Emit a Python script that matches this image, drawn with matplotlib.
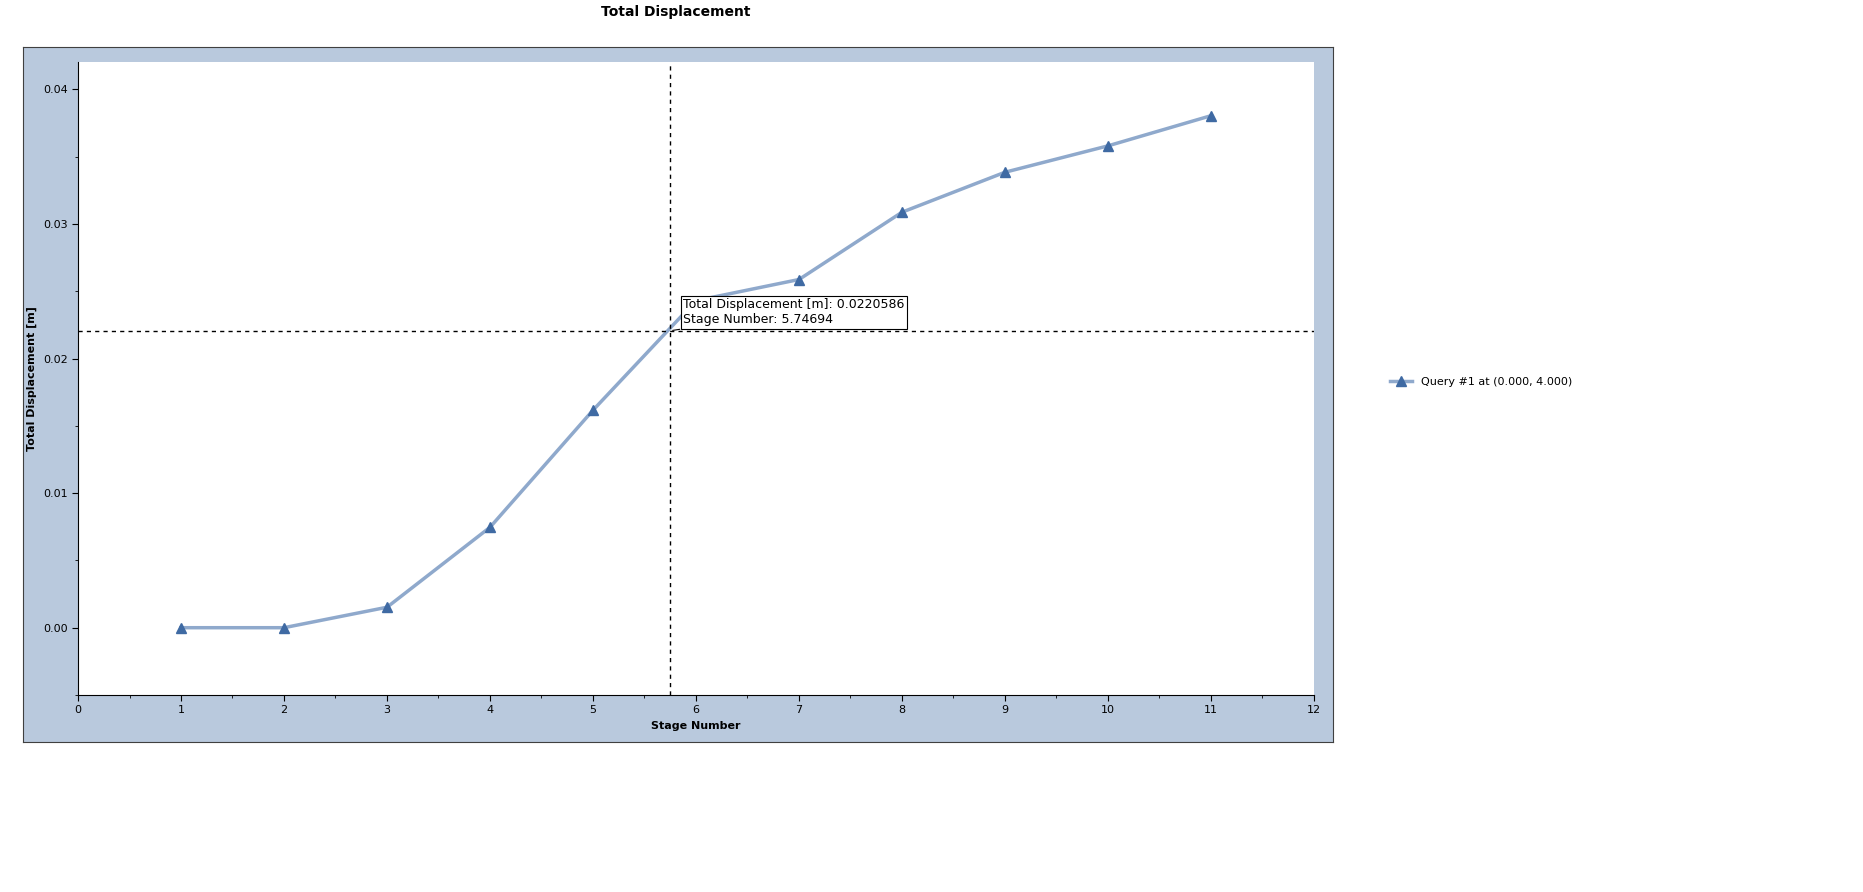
import matplotlib
matplotlib.use("Agg")
import matplotlib.pyplot as plt
from matplotlib.patches import Rectangle

stages = [1, 2, 3, 4, 5, 6, 7, 8, 9, 10, 11]
displacement = [0.0, 0.0, 0.00152, 0.00746, 0.01616, 0.0243, 0.02587, 0.03087, 0.03384, 0.0358, 0.03804]
cursor_x = 5.74694
cursor_y = 0.0220586
series_label = "Query #1 at (0.000, 4.000)"

W, H = 1863, 892
fig = plt.figure(figsize=(W/100, H/100), dpi=100)
bg = fig.add_axes([23/W, 1-742/H, (1333-23)/W, (742-47)/H], zorder=-5)
bg.set_facecolor("#b9c9dd")
bg.set_xticks([]); bg.set_yticks([])
for s in bg.spines.values():
    s.set_color("#404040")
ax = fig.add_axes([78/W, 1-695/H, (1314-78)/W, (695-62)/H], zorder=1)
ax.set_facecolor("white")
ax.set_xlim(0, 12)
ax.set_ylim(-0.00384, 0.04203)
line, = ax.plot(stages, displacement, color="#8fa9cc", lw=2.5, marker="^", markersize=7,
                markerfacecolor="#3f6aa3", markeredgecolor="#3f6aa3", label=series_label)
ax.axvline(cursor_x, color="black", ls=(0, (3, 3)), lw=1)
ax.axhline(cursor_y, color="black", ls=(0, (3, 3)), lw=1)
ax.set_xticks(range(0, 13))
ax.set_xticks([i + 0.5 for i in range(12)], minor=True)
ax.set_yticks([0.0, 0.01, 0.02, 0.03, 0.04])
ax.set_yticks([-0.005 + 0.005*i for i in range(10)], minor=True)
ax.yaxis.set_major_formatter(matplotlib.ticker.FormatStrFormatter("%.2f"))
ax.tick_params(labelsize=8, direction="out", length=4)
ax.tick_params(which="minor", length=2)
for s in ["top", "right"]:
    ax.spines[s].set_visible(False)
ax.set_xlabel("Stage Number", fontsize=8, fontweight="bold")
ax.set_ylabel("Total Displacement [m]", fontsize=8, fontweight="bold")
fig.text(676/W, 1-12/H, "Total Displacement", fontsize=10, fontweight="bold", ha="center", va="center")
ax.annotate(f"Total Displacement [m]: {cursor_y}\nStage Number: {cursor_x}", xy=(cursor_x, cursor_y),
            xytext=(683/W, 1-312/H), textcoords="figure fraction", fontsize=9, va="center", ha="left",
            bbox=dict(boxstyle="square,pad=0.2", fc="white", ec="black", lw=0.8),
            arrowprops=dict(arrowstyle="-", color="black", lw=0.8), zorder=5)
fig.legend(handles=[line], loc="center left", bbox_to_anchor=(1380/W, 1-382/H), frameon=False, fontsize=8)
fig.savefig("out.png", dpi=100)
